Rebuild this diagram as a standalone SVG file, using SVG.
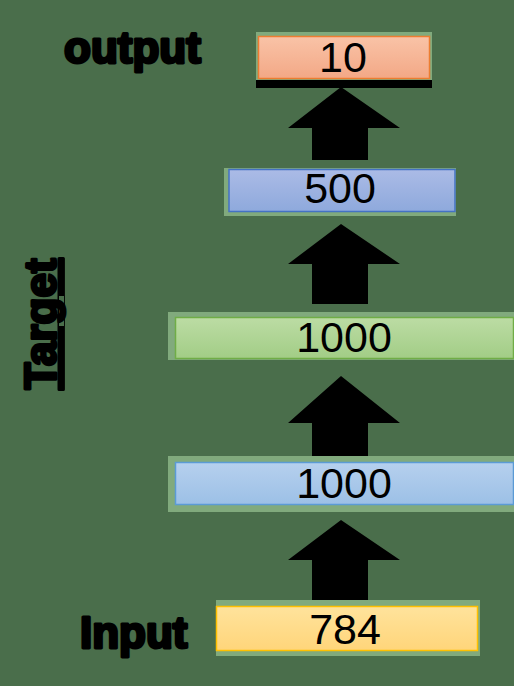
<svg xmlns="http://www.w3.org/2000/svg" width="514" height="686" viewBox="0 0 514 686">
<defs>
<linearGradient id="gOrange" x1="0" y1="0" x2="0" y2="1"><stop offset="0" stop-color="#f9c3a7"/><stop offset="1" stop-color="#f3a886"/></linearGradient>
<linearGradient id="gBlue" x1="0" y1="0" x2="0" y2="1"><stop offset="0" stop-color="#abbbe6"/><stop offset="1" stop-color="#8ea9dc"/></linearGradient>
<linearGradient id="gGreen" x1="0" y1="0" x2="0" y2="1"><stop offset="0" stop-color="#bcdca4"/><stop offset="1" stop-color="#a2cd86"/></linearGradient>
<linearGradient id="gLBlue" x1="0" y1="0" x2="0" y2="1"><stop offset="0" stop-color="#b6d0ee"/><stop offset="1" stop-color="#9cc0e6"/></linearGradient>
<linearGradient id="gYellow" x1="0" y1="0" x2="0" y2="1"><stop offset="0" stop-color="#ffe39c"/><stop offset="1" stop-color="#ffd57a"/></linearGradient>
</defs>
<style>
.halo{fill:#8fb98a;opacity:0.8}
.num{font-family:"Liberation Sans",Arial,sans-serif;font-size:43px;fill:#000;text-anchor:middle}
.lbl{font-family:"Liberation Sans",Arial,sans-serif;font-size:44px;font-weight:bold;fill:#000;stroke:#000;stroke-width:3px;stroke-linejoin:round}
.arrow{fill:#000}
</style>
<rect width="514" height="686" fill="#4a6e4b"/>
<g id="label-output"><text class="lbl" x="64" y="63">output</text></g>
<g id="label-target"><text class="lbl" text-anchor="middle" text-decoration="underline" transform="translate(56,324) rotate(-90)">Target</text></g>
<g id="label-input"><text class="lbl" x="80" y="648">Input</text></g>
<g id="connectors">
<path class="arrow" d="M341,87 L400,128 L368,128 L368,160 L312,160 L312,128 L288,128 Z"/>
<path class="arrow" d="M341,224 L400,264 L368,264 L368,304 L312,304 L312,264 L288,264 Z"/>
<path class="arrow" d="M341,376 L400,423 L368,423 L368,456 L312,456 L312,423 L288,423 Z"/>
<path class="arrow" d="M341,520 L400,560 L368,560 L368,600 L312,600 L312,560 L288,560 Z"/>
</g>
<g id="node-10">
<rect class="halo" x="256" y="32" width="176" height="48"/>
<rect x="256" y="80" width="176" height="8" fill="#000"/>
<rect x="258.5" y="36.5" width="171" height="42" fill="url(#gOrange)" stroke="#ed7d31" stroke-width="1.5"/>
<text class="num" x="343" y="72">10</text>
</g>
<g id="node-500">
<rect class="halo" x="224" y="168" width="232" height="48"/>
<rect x="229" y="169.5" width="226" height="42" fill="url(#gBlue)" stroke="#4472c4" stroke-width="1.5"/>
<text class="num" x="340" y="203">500</text>
</g>
<g id="node-1000a">
<rect class="halo" x="168" y="312" width="346" height="48"/>
<rect x="175.5" y="317.5" width="338" height="41" fill="url(#gGreen)" stroke="#70ad47" stroke-width="1.5"/>
<text class="num" x="344" y="352">1000</text>
</g>
<g id="node-1000b">
<rect class="halo" x="168" y="456" width="346" height="56"/>
<rect x="175.5" y="462.5" width="338" height="42" fill="url(#gLBlue)" stroke="#5b9bd5" stroke-width="1.5"/>
<text class="num" x="344" y="498">1000</text>
</g>
<g id="node-784">
<rect class="halo" x="216" y="600" width="264" height="56"/>
<rect x="216.5" y="606.5" width="261" height="44" fill="url(#gYellow)" stroke="#ffc000" stroke-width="1.5"/>
<text class="num" x="345" y="644">784</text>
</g>
</svg>
